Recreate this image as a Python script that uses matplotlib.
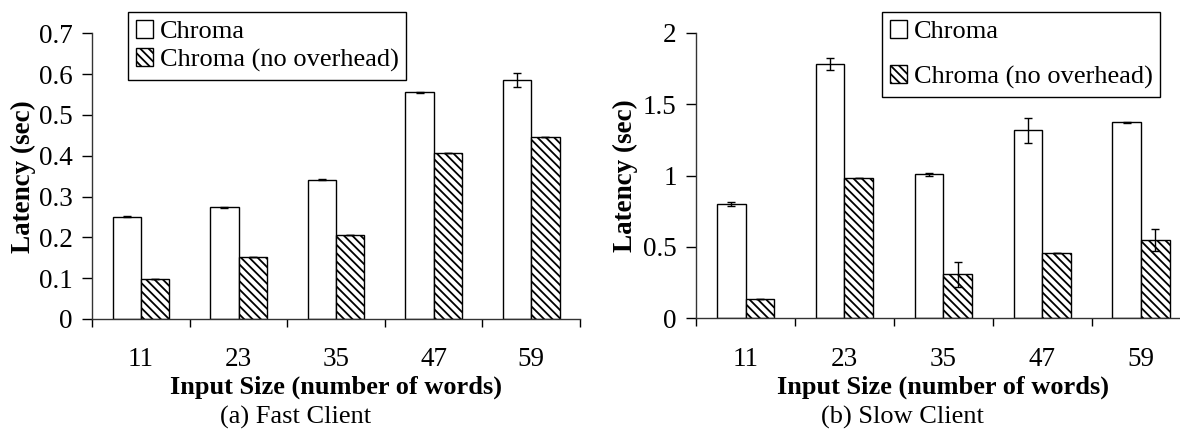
import matplotlib
matplotlib.use("Agg")
import matplotlib.pyplot as plt
import numpy as np
from matplotlib.ticker import FormatStrFormatter, FixedLocator

plt.rcParams['font.family'] = ['Liberation Serif', 'DejaVu Serif']
plt.rcParams['hatch.linewidth'] = 1.3

sizes = ["11", "23", "35", "47", "59"]
series_names = ["Chroma", "Chroma (no overhead)"]

fast_chroma = [0.251, 0.274, 0.341, 0.555, 0.586]
fast_chroma_err = [0.001, 0.001, 0.001, 0.002, 0.017]
fast_noov = [0.098, 0.152, 0.205, 0.406, 0.447]
fast_noov_err = [0.0, 0.0, 0.0, 0.0, 0.0]

slow_chroma = [0.800, 1.781, 1.008, 1.316, 1.372]
slow_chroma_err = [0.014, 0.04, 0.01, 0.085, 0.005]
slow_noov = [0.135, 0.982, 0.308, 0.455, 0.548]
slow_noov_err = [0.0, 0.0, 0.088, 0.0, 0.08]

W, H = 1180, 429
fig = plt.figure(figsize=(W / 100, H / 100), dpi=100)


def px_axes(x0, y_top, x1, y_bot):
    return [x0 / W, 1 - y_bot / H, (x1 - x0) / W, (y_bot - y_top) / H]


FS = 19
TFS = 19.5
YFS = 19.5
bw = 0.29


def draw(ax, chroma, chroma_err, noov, noov_err, ymax, ystep, leg_xy, leg_spacing,
         ylabel_x, caption_x):
    x = np.arange(len(sizes))
    ax.bar(x - bw / 2, chroma, bw, color='white', edgecolor='black', linewidth=1.0,
           yerr=chroma_err, error_kw=dict(ecolor='black', elinewidth=1.0, capsize=3, capthick=1.0),
           label=series_names[0], zorder=2)
    ax.bar(x + bw / 2, noov, bw, color='white', edgecolor='black', linewidth=1.0,
           hatch='\\\\\\\\', yerr=noov_err,
           error_kw=dict(ecolor='black', elinewidth=1.0, capsize=3, capthick=1.0),
           label=series_names[1], zorder=2)
    ax.set_xlim(-0.5, len(sizes) - 0.5)
    ax.set_ylim(0, ymax)
    ax.set_yticks(np.arange(0, ymax + 1e-9, ystep))
    ax.yaxis.set_major_formatter(FormatStrFormatter('%g'))
    ax.set_xticks(x)
    ax.set_xticklabels(sizes)
    ax.xaxis.set_minor_locator(FixedLocator(np.arange(-0.5, len(sizes), 1.0)))
    ax.tick_params(axis='x', which='major', length=0, pad=20.5, labelsize=TFS)
    ax.tick_params(axis='x', which='minor', length=6, width=1.0, direction='out')
    ax.tick_params(axis='y', length=7, width=1.0, direction='out', pad=7, labelsize=TFS)
    for s in ['top', 'right']:
        ax.spines[s].set_visible(False)
    for s in ['left', 'bottom']:
        ax.spines[s].set_linewidth(1.0)
        ax.spines[s].set_color('#333333')
    ax.set_xlabel("Input Size (number of words)", fontsize=FS, fontweight='bold', labelpad=2.5)
    ax.set_ylabel("Latency (sec)", fontsize=YFS, fontweight='bold')
    ax.yaxis.set_label_coords(ylabel_x, 0.5)
    leg = ax.legend(loc='upper left', bbox_to_anchor=(leg_xy[0] / W, 1 - leg_xy[1] / H),
                    bbox_transform=fig.transFigure, borderaxespad=0, fontsize=FS,
                    frameon=True, fancybox=False, framealpha=1, edgecolor='black',
                    handlelength=0.65, handleheight=0.65, handletextpad=0.25,
                    labelspacing=leg_spacing, borderpad=0.3)
    leg.get_frame().set_linewidth(1.0)
    fig.text(caption_x / W, 1 - 417 / H, ax.get_label(), ha='center', va='center', fontsize=FS)


ax1 = fig.add_axes(px_axes(92.3, 33.3, 580.0, 319.0), label="(a) Fast Client")
draw(ax1, fast_chroma, fast_chroma_err, fast_noov, fast_noov_err, 0.7, 0.1,
     (128, 12), 0.2, -0.116, 296)

ax2 = fig.add_axes(px_axes(696.1, 32.7, 1190.6, 318.3), label="(b) Slow Client")
draw(ax2, slow_chroma, slow_chroma_err, slow_noov, slow_noov_err, 2.0, 0.5,
     (882, 12), 0.85, -0.117, 902)

fig.savefig("out.png", dpi=100)
